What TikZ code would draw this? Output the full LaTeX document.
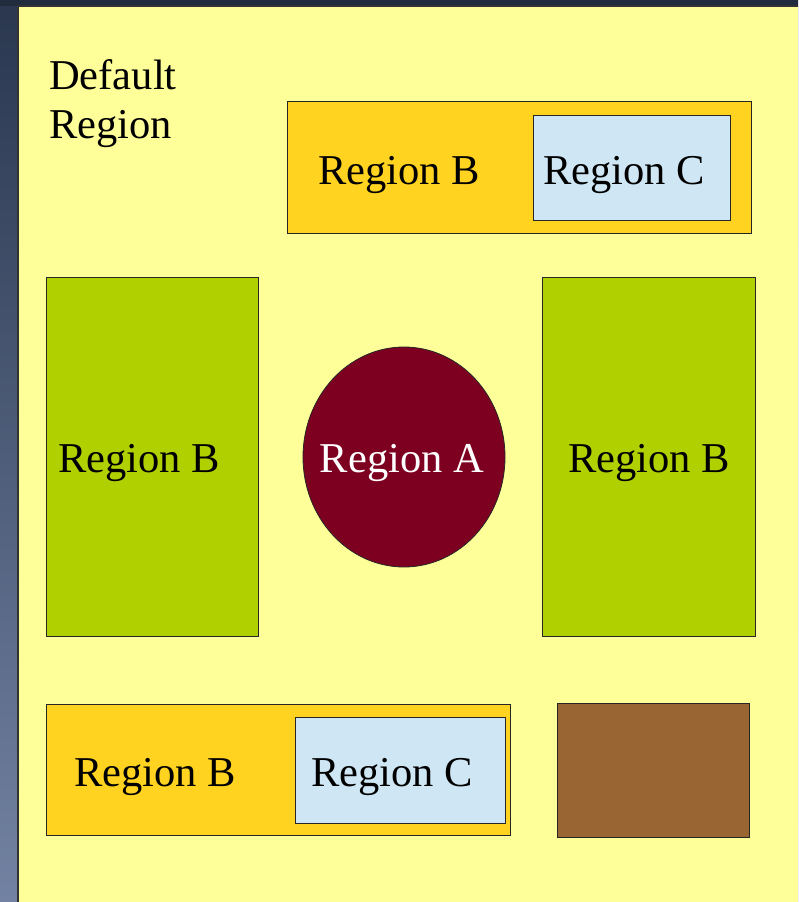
\documentclass[tikz,border=0pt]{standalone}
\usepackage{fontspec}
\setmainfont{Liberation Serif}
\usetikzlibrary{shapes.geometric}
\definecolor{bgtop}{HTML}{2A374F}
\definecolor{bgbot}{HTML}{7282A2}
\definecolor{panel}{HTML}{FFFF99}
\definecolor{orangeb}{HTML}{FFD320}
\definecolor{lightc}{HTML}{CFE7F5}
\definecolor{greenb}{HTML}{B0D000}
\definecolor{reda}{HTML}{7E0021}
\definecolor{brownx}{HTML}{996633}
\tikzset{
  region/.style={draw=black!85, line width=0.8pt, inner sep=0pt, anchor=north west},
  lbl/.style={font=\fontsize{42.5}{49}\selectfont, text=black, inner sep=0pt}
}
\begin{document}
\begin{tikzpicture}[x=1pt,y=-1pt]
\useasboundingbox (0,0) rectangle (798,902);
\shade[top color=bgtop, bottom color=bgbot] (0,0) rectangle (798,902);
\fill[bgtop!80!black] (0,0) rectangle (798,6);
\fill[panel] (18,6) rectangle (798,902);
\draw[black!80, line width=2pt] (18,902) -- (18,6) -- (798,6);
% default
\node[lbl, align=left, anchor=north west] (def) at (49,59) {Default\\Region};
% top region B
\node[region, fill=orangeb, minimum width=464, minimum height=132] (tb) at (287,101) {};
\node[region, fill=lightc, minimum width=197, minimum height=105] (tc) at (533,115) {};
\node[lbl] (tbl) at (399,175) {Region B};
\node[lbl] (tcl) at (624,175) {Region C};
% green
\node[region, fill=greenb, minimum width=212, minimum height=359] (gl) at (46,277) {};
\node[region, fill=greenb, minimum width=213, minimum height=359] (gr) at (542,277) {};
\node[lbl] (gll) at (139,463) {Region B};
\node[lbl] (grl) at (649,463) {Region B};
% ellipse
\node[ellipse, draw=black!85, line width=0.8pt, fill=reda, minimum width=202, minimum height=220, inner sep=0pt] (ra) at (404,457) {};
\node[lbl, text=white] (ral) at (402,463) {Region A};
% bottom
\node[region, fill=orangeb, minimum width=464, minimum height=131] (bb) at (46,704) {};
\node[region, fill=lightc, minimum width=210, minimum height=106] (bc) at (295,717) {};
\node[lbl] (bbl) at (155,777) {Region B};
\node[lbl] (bcl) at (392,777) {Region C};
\node[region, fill=brownx, minimum width=192, minimum height=134] (br) at (557,703) {};
\end{tikzpicture}
\end{document}
